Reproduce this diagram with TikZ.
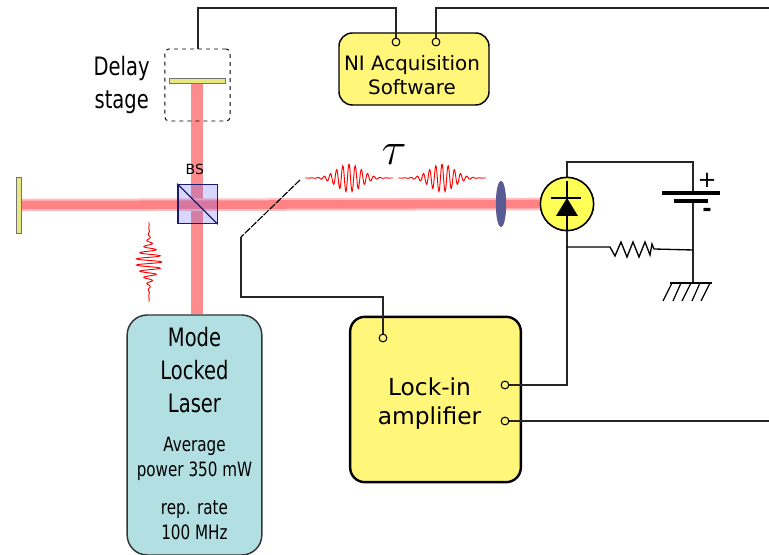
\documentclass[tikz,border=0pt]{standalone}
\usepackage{fontspec}
\setmainfont{DejaVu Sans}
\newfontfamily\narrowfont[FakeStretch=0.77]{DejaVu Sans}
\newcommand{\bigtext}{\narrowfont\fontsize{19}{25}\selectfont}
\newcommand{\smalltext}{\narrowfont\fontsize{14.8}{18.5}\selectfont}
\definecolor{boxYellow}{RGB}{255,246,122}
\definecolor{diodeYellow}{RGB}{255,255,85}
\definecolor{mirrorKhaki}{RGB}{232,232,128}
\definecolor{laserTeal}{RGB}{178,223,226}
\definecolor{lensBlue}{RGB}{88,92,146}
\definecolor{cubeBlue}{RGB}{28,28,110}
\definecolor{beamPale}{RGB}{255,192,196}
\usetikzlibrary{arrows.meta, positioning, shapes.geometric, backgrounds}

\begin{document}
\begin{tikzpicture}[
  x=0.75pt, y=-0.75pt,
  yellowbox/.style={rectangle, draw=black, fill=boxYellow, text centered},
  port/.style={circle, draw=black, fill=boxYellow, line width=0.8pt, inner sep=0pt, minimum size=5.8pt},
  wire/.style={line width=1pt, color=black!85},
  mirror/.style={rectangle, draw=black!55, fill=mirrorKhaki, line width=0.6pt, inner sep=0pt},
  beamV/.style={line width=8.3pt, color=red, opacity=0.45},
  beamH/.style={line width=9.4pt, color=beamPale},
  beamCore/.style={line width=6.4pt, color=red, opacity=0.32},
  pulse/.style={color=red, line width=0.7pt}
]
  \useasboundingbox (0,0) rectangle (769,555);

  \node[yellowbox, rounded corners=10pt, line width=1.1pt, font=\fontsize{14.9}{18}\selectfont,
        align=center, minimum width=112.5pt, minimum height=54pt] (ni) at (414,69)
        {\rule{0pt}{20pt}NI Acquisition\hspace*{3pt}\\Software\hspace*{3pt}};
  \node[yellowbox, rounded corners=11pt, line width=1.8pt, font=\fontsize{17.5}{22}\selectfont,
        align=center, minimum width=128pt, minimum height=124pt] (lockin) at (435.5,399.5)
        {\rule{0pt}{19pt}Lock-in\hspace*{9pt}\\amplifier\hspace*{9pt}};
  \node[rectangle, draw=black!80, fill=laserTeal, rounded corners=15pt, line width=1.1pt, align=center,
        font=\smalltext, minimum width=101pt, minimum height=180pt, inner sep=0pt] (laser) at (194.5,435)
        {\bigtext Mode\\[6.5pt]\bigtext Locked\\[6.5pt]\bigtext Laser\\[10.75pt]
         Average\\power 350 mW\\[10pt]rep. rate\\100 MHz\rule[-3pt]{0pt}{0pt}};

  \node[rectangle, draw=black, dashed, rounded corners=3pt, line width=0.7pt,
        minimum width=49pt, minimum height=54pt] (stage) at (197.5,85) {};
  \node[mirror, minimum width=42pt, minimum height=3.8pt] (stagemirror) at (197,80.5) {};
  \node[mirror, minimum width=3.8pt, minimum height=42pt] (endmirror) at (18.5,205) {};
  \node[font=\bigtext, align=center, left=8pt of stage, xshift=0.5pt] (stagetext) {Delay\\\bigtext stage};

  \node[rectangle, draw=cubeBlue, fill=blue!70!white, fill opacity=0.22, draw opacity=1, line width=1pt,
        minimum size=29.5pt, inner sep=0pt] (cube) at (197.5,204) {};
  \node[font=\fontsize{10.5}{12}\selectfont, above=3.5pt of cube, xshift=-2pt] (cubetext) {BS};
  \node[ellipse, fill=lensBlue, inner sep=0pt, minimum width=7.8pt, minimum height=35pt] (lens) at (501,204) {};
  \node[circle, draw=black, fill=diodeYellow, line width=1.2pt, inner sep=0pt, minimum size=40pt] (diode) at (567,204) {};

  \node[scale=1.4, inner sep=0pt, font=\fontsize{36}{36}\selectfont] (tau) at (394,155) {$\tau$};

  \node[port] (niA) at (396,42) {};
  \node[port] (niB) at (436,42) {};
  \node[port] (lockA) at (383,338) {};
  \node[port] (lockB) at (505,385) {};
  \node[port] (lockC) at (505,421) {};

  \coordinate (stageup) at (198,8);
  \coordinate (stagedown) at (198,49);
  \coordinate (outtop) at (769,8);
  \coordinate (outmid) at (769,421);
  \coordinate (chopA) at (300,180);
  \coordinate (chopB) at (241,237);
  \coordinate (chopC) at (241,297);
  \coordinate (diodetop) at (567,162);
  \coordinate (diodeout) at (567,247);
  \coordinate (batteryA) at (693,193);
  \coordinate (batteryB) at (693,201);
  \coordinate (junction) at (693,250);
  \coordinate (ground) at (693,283);

  \begin{pgfonlayer}{background}
    \draw[beamV] (stagemirror.south) -- (stagemirror.south |- laser.north);
    \draw[beamH] (endmirror.east) -- (diode.west);
    \draw[beamCore] (endmirror.east) -- (diode.west);
  \end{pgfonlayer}

  \draw[wire] (stagedown) -- (stageup) -| (niA.north);
  \draw[wire] (niB.north) |- (outtop);
  \draw[black, line width=0.85pt, dash pattern=on 5.5pt off 1pt] (chopA) -- (chopB);
  \draw[wire] (chopB) -- (chopC) -| (lockA.north);
  \draw[wire] (lockB.east) -| (diode.south);
  \draw[wire] (lockC.east) -- (outmid);
  \draw[wire] (diode.north) |- (diodetop) -| (batteryA);
  \draw[wire] (batteryB) -- (ground);
  \draw[wire, color=black] (diodeout) -- (610,247) -- (615,256) -- (621,242) -- (627,257) -- (633,242)
    -- (639,257) -- (645,242) -- (650,255) -- (652,244) -- (654,249) -- (junction);

  \draw[cubeBlue, line width=1pt] (cube.north west) -- (cube.south east);

  \draw[black, line width=3pt] (662,193) -- (720,193);
  \draw[black, line width=3pt] (674,201) -- (708,201);
  \node[font=\fontsize{17}{17}\selectfont, inner sep=0pt] (plus) at (707,180) {+};
  \node[font=\bfseries\fontsize{17}{17}\selectfont, inner sep=0pt] (minus) at (707,212) {-};

  \draw[black, line width=0.9pt] (567,181) -- (567,231);
  \draw[black, line width=0.9pt] (551,198) -- (581,198);
  \fill[black] (567,198) -- (578,216) -- (556,216) -- cycle;

  \draw[black, line width=0.9pt] (670,283) -- (712,283);
  \foreach \tx/\bx in {672/663, 681/673, 691/682, 700/692, 710/701}
    \draw[black, line width=0.9pt] (\tx,283) -- (\bx,301);

  \foreach \cx in {349, 442}
    \draw[pulse, shift={(\cx,178)}] plot[domain=-44:44, samples=220, smooth]
      (\x, {-14*exp(-\x*\x/300)*cos(360*\x/6.2)});
  \draw[pulse, shift={(149,262)}] plot[domain=-40:40, samples=200, smooth]
      ({13*exp(-\x*\x/260)*cos(360*\x/6.2)}, \x);
\end{tikzpicture}
\end{document}
